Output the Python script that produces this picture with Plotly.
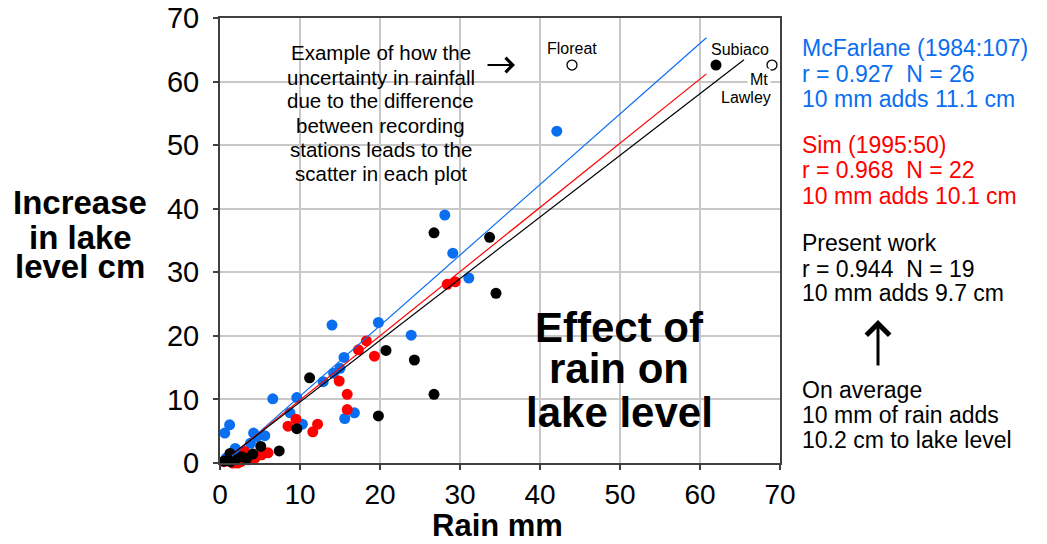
import plotly.graph_objects as go

# ---------------- data ----------------
mcf_x = [0.6, 1.2, 1.9, 3.8, 4.2, 4.6, 5.6, 6.6, 8.75, 9.6, 10.3, 12.9, 14.2, 15.0, 15.5, 14.0, 15.6, 16.8, 19.8, 23.9, 28.1, 29.1, 31.1, 42.1, 0.8, 2.6]
mcf_y = [4.7, 6.0, 2.3, 3.1, 4.7, 4.1, 4.3, 10.1, 7.9, 10.3, 6.1, 12.8, 14.1, 14.9, 16.6, 21.7, 7.0, 7.9, 22.1, 20.1, 39.0, 33.0, 29.1, 52.2, 0.8, 1.6]

sim_x = [0.5, 1.0, 1.6, 2.6, 3.1, 3.6, 4.4, 5.2, 6.0, 8.5, 9.5, 11.6, 12.2, 14.9, 15.9, 15.9, 17.3, 18.3, 19.3, 28.4, 29.4, 2.2]
sim_y = [0.2, 0.4, 0.0, 0.2, 1.8, 0.5, 0.8, 1.3, 1.6, 5.8, 6.9, 4.9, 6.1, 12.9, 10.8, 8.4, 17.8, 19.2, 16.8, 28.1, 28.5, 0.0]

pw_x = [0.5, 1.25, 1.3, 2.0, 2.7, 3.3, 4.1, 5.1, 7.4, 9.6, 11.2, 19.8, 20.75, 24.3, 26.75, 26.75, 33.7, 34.5, 62.0]
pw_y = [0.3, 1.5, 0.2, 0.6, 1.0, 0.7, 1.4, 2.6, 1.9, 5.4, 13.4, 7.4, 17.7, 16.2, 36.2, 10.8, 35.5, 26.7, 62.6]

open_x = [44.0, 69.0]          # Floreat, Mt Lawley
open_y = [62.6, 62.6]

# regression fits: slope, intercept, x start, x end
fit_names = ["McFarlane", "Sim", "Present"]
fit_slope = [1.11, 1.01, 0.97]
fit_icpt = [-0.6, -0.2, -0.1]
fit_x0 = [1.5, 1.5, 1.5]
fit_x1 = [60.8, 60.8, 65.5]

x_ticks = [0, 10, 20, 30, 40, 50, 60, 70]
y_ticks = [0, 10, 20, 30, 40, 50, 60, 70]

BLUE = "#0a6ef0"
RED = "#ff0000"
BLACK = "#000000"
FONT = "Liberation Sans, Arial, sans-serif"

# plot area in pixels
L, R, T, B = 220, 780, 18, 463
W, H = 1047, 544


def px(xp, yp):
    return (xp - L) / (R - L), (B - yp) / (B - T)


fig = go.Figure()
for xs, ys, c in [(mcf_x, mcf_y, BLUE), (sim_x, sim_y, RED), (pw_x, pw_y, BLACK)]:
    fig.add_trace(go.Scatter(x=xs, y=ys, mode="markers",
                             marker=dict(size=11, color=c, line=dict(width=0)),
                             showlegend=False, cliponaxis=False))
fig.add_trace(go.Scatter(x=open_x, y=open_y, mode="markers",
                         marker=dict(size=10, color="white", symbol="circle",
                                     line=dict(width=1.3, color="black")),
                         showlegend=False, cliponaxis=False))
for s, b, a0, a1, c in zip(fit_slope, fit_icpt, fit_x0, fit_x1, [BLUE, RED, BLACK]):
    fig.add_trace(go.Scatter(x=[a0, a1], y=[s * a0 + b, s * a1 + b], mode="lines",
                             line=dict(color=c, width=1.2), showlegend=False))

ann = []


def text(xp, yp, t, size, color="black", bold=False, xanchor="center", bg=None, pad=1):
    xx, yy = px(xp, yp)
    d = dict(x=xx, y=yy, xref="paper", yref="paper", text=("<b>%s</b>" % t if bold else t),
             showarrow=False, xanchor=xanchor, yanchor="middle",
             font=dict(family=FONT, size=size, color=color), borderpad=pad)
    if bg:
        d["bgcolor"] = bg
    ann.append(d)


# y axis title
for t, yy in [("Increase", 202), ("in lake", 237), ("level cm", 266)]:
    text(80, yy, t, 33, bold=True)
# x axis title
text(497, 525, "Rain mm", 31, bold=True, pad=0)

# Effect of rain on lake level
for t, yy in [("Effect of", 327), ("rain on", 368), ("lake level", 412)]:
    text(619, yy, t, 42, bold=True)

# Example note (one annotation per line, on a white panel)
note = ["Example of how the", "uncertainty in rainfall", "due to the difference",
        "between recording", "stations leads to the", "scatter in each plot"]
for t, yy in zip(note, [53, 77, 101, 125.5, 149.5, 173.5]):
    text(380.5, yy, t, 20.5)

# station labels
text(572, 48, "Floreat", 16)
text(740, 49, "Subiaco", 16)
text(759, 80, "Mt", 16, bg="white", pad=2)
text(746, 97, "Lawley", 16)

# right side text
right = [
    ("McFarlane (1984:107)", 48, BLUE), ("r = 0.927  N = 26", 74, BLUE), ("10 mm adds 11.1 cm", 99, BLUE),
    ("Sim (1995:50)", 145, RED), ("r = 0.968  N = 22", 170, RED), ("10 mm adds 10.1 cm", 196, RED),
    ("Present work", 243, BLACK), ("r = 0.944  N = 19", 269, BLACK), ("10 mm adds 9.7 cm", 293, BLACK),
    ("On average", 390, BLACK), ("10 mm of rain adds", 415, BLACK), ("10.2 cm to lake level", 440, BLACK),
]
for t, yy, c in right:
    text(800, yy, t, 23, color=c, xanchor="left")

# arrows
tx, ty = px(878, 320)
ann.append(dict(x=tx, y=ty, xref="paper", yref="paper", text="", showarrow=True,
                ax=0, ay=47, arrowhead=4, arrowsize=1.5, arrowwidth=3, arrowcolor="black", standoff=0))
tx, ty = px(515, 65)
ann.append(dict(x=tx, y=ty, xref="paper", yref="paper", text="", showarrow=True,
                ax=-29, ay=0, arrowhead=4, arrowsize=1.4, arrowwidth=2, arrowcolor="black", standoff=0))

# white panels behind the in-plot texts
shapes = []
for (a, b_, c_, d_) in [(515, 445, 728, 295), (278, 190, 483, 33)]:
    x0, y0 = px(a, b_)
    x1, y1 = px(c_, d_)
    shapes.append(dict(type="rect", xref="paper", yref="paper", x0=x0, y0=y0, x1=x1, y1=y1,
                       fillcolor="white", line=dict(width=0), layer="between"))

axis_common = dict(range=[0, 70], tickvals=x_ticks, showgrid=True, gridcolor="#c8c8c8", gridwidth=1.5,
                   showline=True, linecolor="#404040", linewidth=2, mirror=True,
                   ticks="outside", ticklen=5, tickcolor="#404040", tickwidth=1.5,
                   zeroline=False, automargin=False,
                   tickfont=dict(family=FONT, size=29, color="black"))

fig.update_layout(
    width=W, height=H,
    margin=dict(l=L, r=W - R, t=T, b=H - B, autoexpand=False),
    paper_bgcolor="white", plot_bgcolor="white",
    xaxis=dict(**{**axis_common, "tickfont": dict(family=FONT, size=28, color="black")}, ticklabelstandoff=0),
    yaxis=dict(**{**axis_common, "tickvals": y_ticks}, ticklabelstandoff=8),
    annotations=ann, shapes=shapes,
)

fig.write_html("out.html", config={"displayModeBar": False},
               post_script="document.body.style.margin='0';document.body.style.overflow='hidden';")
